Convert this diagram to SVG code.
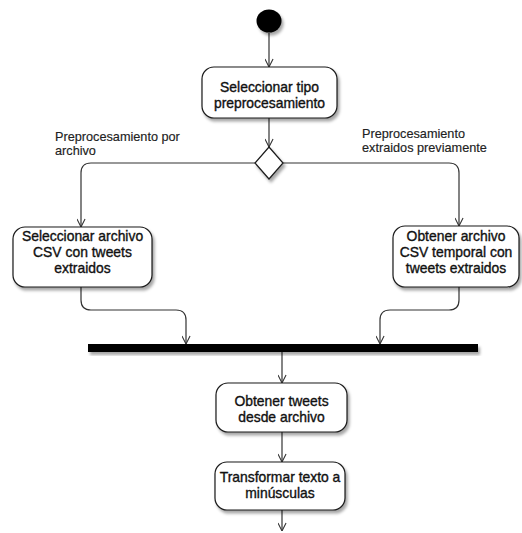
<svg xmlns="http://www.w3.org/2000/svg" width="522" height="533" viewBox="0 0 522 533">
  <style>
    .node { fill: #ffffff; stroke: #1a1a1a; stroke-width: 1.2; }
    .lbl { font-family: "Liberation Sans", Arial, sans-serif; font-size: 13.9px; fill: #111; text-anchor: middle; stroke: #111; stroke-width: 0.35; }
    .guard { font-family: "Liberation Sans", Arial, sans-serif; font-size: 12.1px; fill: #222; stroke: #222; stroke-width: 0.15; }
    .edge { fill: none; stroke: #333; stroke-width: 1.2; marker-end: url(#open); }
  </style>
  <defs>
    <filter id="shadow" x="-20%" y="-20%" width="150%" height="160%">
      <feDropShadow dx="2" dy="3" stdDeviation="1.6" flood-color="#000" flood-opacity="0.35"/>
    </filter>
    <marker id="open" viewBox="0 0 10 10" refX="9.5" refY="5" markerWidth="9" markerHeight="9" markerUnits="userSpaceOnUse" orient="auto">
      <path d="M0.5,0.5 L9.5,5 L0.5,9.5" fill="none" stroke="#333" stroke-width="1.2"/>
    </marker>
  </defs>

  <rect width="522" height="533" fill="#ffffff"/>

  <!-- connectors -->
  <g id="edges">
    <path class="edge" d="M269,33 V67"/>
    <path class="edge" d="M269,118 V147"/>
    <path class="edge" d="M255,163 H91 Q81,163 81,173 V227"/>
    <path class="edge" d="M283,163 H449 Q459,163 459,173 V226"/>
    <path class="edge" d="M81,287 V300 Q81,310 91,310 H176 Q186,310 186,320 V344"/>
    <path class="edge" d="M459,287 V300 Q459,310 449,310 H390 Q380,310 380,320 V344"/>
    <path class="edge" d="M282,352 V383"/>
    <path class="edge" d="M282,432 V462"/>
    <path class="edge" d="M282,510 V531"/>
  </g>

  <!-- initial state -->
  <g id="start">
    <ellipse cx="269" cy="21" rx="12.5" ry="11.5" fill="#000" filter="url(#shadow)"/>
  </g>

  <g id="select-type">
    <rect class="node" x="202" y="67" width="135" height="51" rx="12" filter="url(#shadow)"/>
    <text class="lbl" x="269.5" y="92">Seleccionar tipo</text>
    <text class="lbl" x="269.5" y="108">preprocesamiento</text>
  </g>

  <g id="decision">
    <polygon points="269,147 283,163 269,179 255,163" fill="#fff" stroke="#1a1a1a" stroke-width="1.2" filter="url(#shadow)"/>
  </g>

  <!-- guard labels, slightly widened -->
  <g id="guards">
    <text class="guard" transform="translate(55,141) scale(1.05,1)">Preprocesamiento por</text>
    <text class="guard" transform="translate(55,155) scale(1.05,1)">archivo</text>
    <text class="guard" transform="translate(362,138) scale(1.05,1)">Preprocesamiento</text>
    <text class="guard" transform="translate(362,152) scale(1.05,1)">extraidos previamente</text>
  </g>

  <g id="select-csv">
    <rect class="node" x="13" y="227" width="139" height="60" rx="12" filter="url(#shadow)"/>
    <text class="lbl" x="82.5" y="241">Seleccionar archivo</text>
    <text class="lbl" x="82.5" y="257">CSV con tweets</text>
    <text class="lbl" x="82.5" y="273">extraidos</text>
  </g>

  <g id="temp-csv">
    <rect class="node" x="393" y="226" width="126" height="61" rx="12" filter="url(#shadow)"/>
    <text class="lbl" x="456" y="241">Obtener archivo</text>
    <text class="lbl" x="456" y="257">CSV temporal con</text>
    <text class="lbl" x="456" y="273">tweets extraidos</text>
  </g>

  <g id="join">
    <rect x="88" y="344" width="390" height="8" fill="#000" filter="url(#shadow)"/>
  </g>

  <g id="load-tweets">
    <rect class="node" x="216" y="383" width="131" height="49" rx="12" filter="url(#shadow)"/>
    <text class="lbl" x="281.5" y="406">Obtener tweets</text>
    <text class="lbl" x="281.5" y="422">desde archivo</text>
  </g>

  <g id="lowercase">
    <rect class="node" x="215" y="462" width="130" height="48" rx="12" filter="url(#shadow)"/>
    <text class="lbl" x="280" y="482">Transformar texto a</text>
    <text class="lbl" x="280" y="498">minúsculas</text>
  </g>
</svg>
